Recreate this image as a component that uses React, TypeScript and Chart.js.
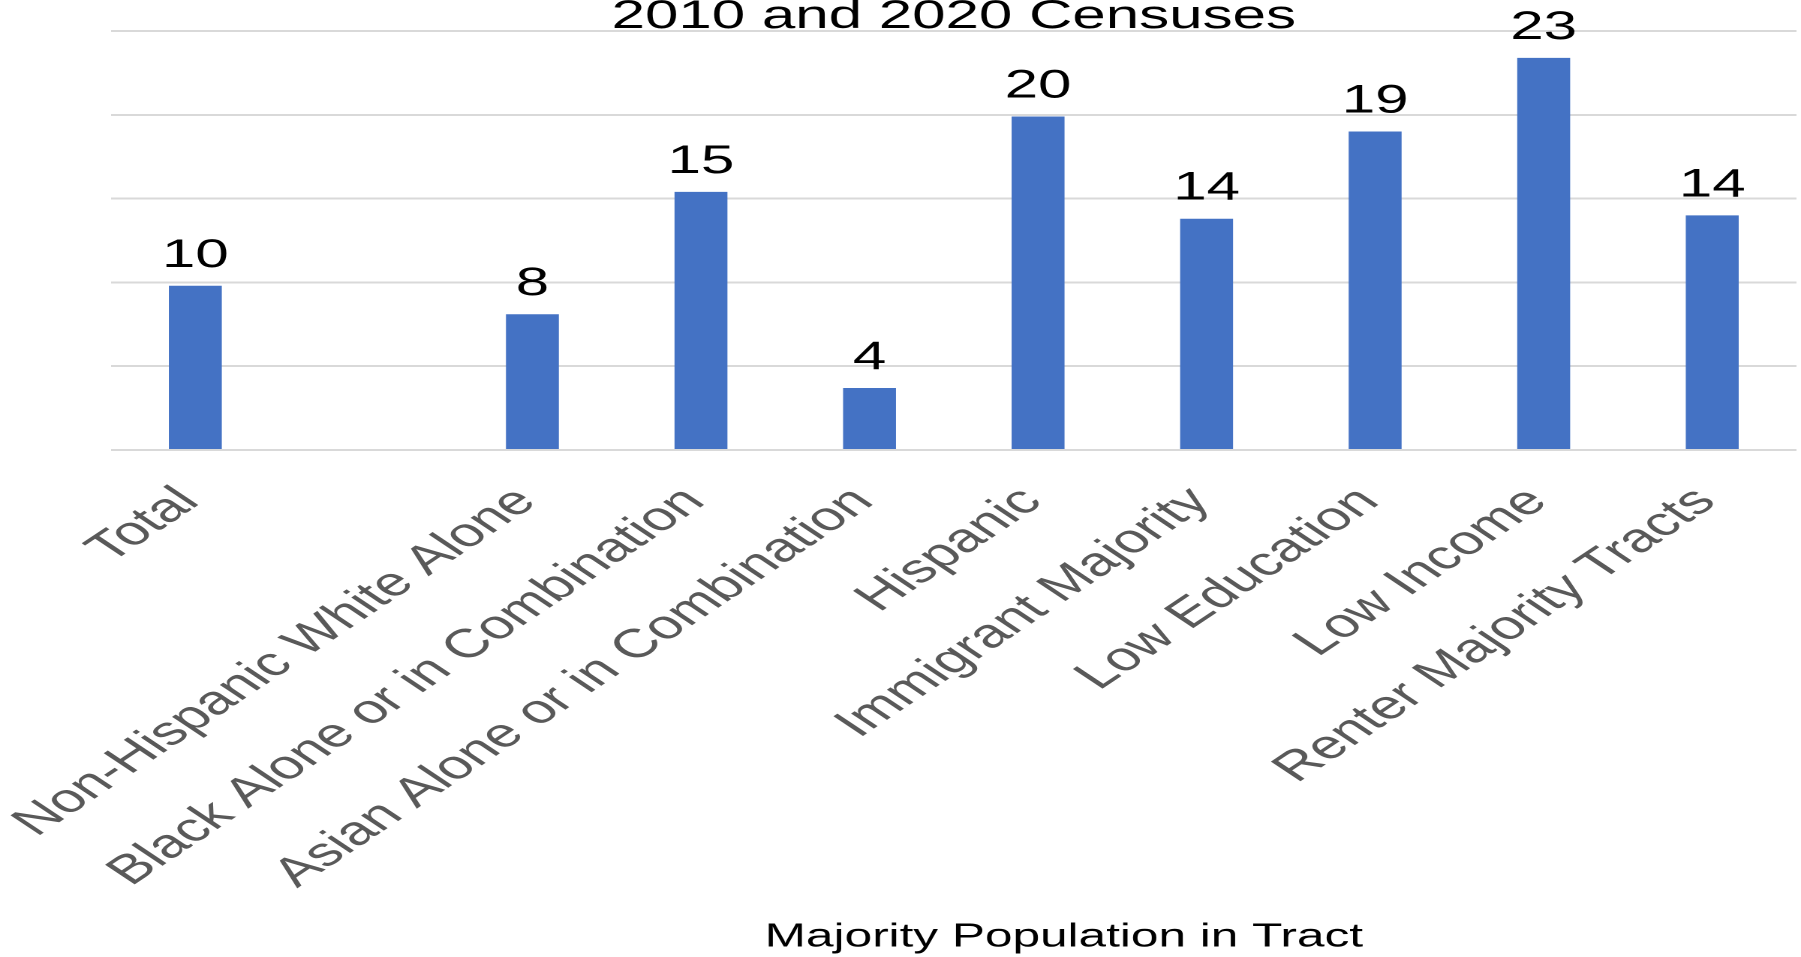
import React, { useEffect, useRef } from "react";
import { Chart, registerables } from "chart.js";

Chart.register(...registerables);

// chart data
const CATEGORIES = [
  "Total",
  "",
  "Non-Hispanic White Alone",
  "Black Alone or in Combination",
  "Asian Alone or in Combination",
  "Hispanic",
  "Immigrant Majority",
  "Low Education",
  "Low Income",
  "Renter Majority Tracts",
];
const VALUES: (number | null)[] = [9.8, null, 8.1, 15.4, 3.7, 19.9, 13.8, 19.0, 23.4, 14.0];
const Y_TICKS = [0, 5, 10, 15, 20, 25];
const TITLE = "2010 and 2020 Censuses";
const X_TITLE = "Majority Population in Tract";

const FONT = '"Liberation Sans", Arial, sans-serif';
// the original picture is a chart stretched sideways, so draw narrow and widen it
const CANVAS_W = 1200;
const CANVAS_H = 966;
const STRETCH = 1801 / CANVAS_W;
const SHIFT_UP = 9;

const valueLabels = {
  id: "valueLabels",
  afterDatasetsDraw(chart: Chart) {
    const { ctx } = chart;
    const meta = chart.getDatasetMeta(0);
    ctx.save();
    ctx.font = `40px ${FONT}`;
    ctx.fillStyle = "#000000";
    ctx.textAlign = "center";
    ctx.textBaseline = "alphabetic";
    meta.data.forEach((bar: any, i: number) => {
      const v = VALUES[i];
      if (v == null) return;
      ctx.fillText(String(Math.round(v)), bar.x, bar.y - 19);
    });
    ctx.restore();
  },
};

export default function App() {
  const canvasRef = useRef<HTMLCanvasElement | null>(null);

  useEffect(() => {
    if (!canvasRef.current) return;
    const chart = new Chart(canvasRef.current, {
      type: "bar",
      data: {
        labels: CATEGORIES,
        datasets: [
          {
            data: VALUES,
            backgroundColor: "#4472C4",
            barPercentage: 0.314,
            categoryPercentage: 1,
          },
        ],
      },
      options: {
        animation: false,
        responsive: false,
        maintainAspectRatio: false,
        devicePixelRatio: 2,
        layout: { padding: { left: 74, right: 3, top: 0, bottom: 48 } },
        plugins: {
          legend: { display: false },
          tooltip: { enabled: false },
          title: {
            display: true,
            text: TITLE,
            color: "#000000",
            font: { family: FONT, size: 40, weight: "normal", lineHeight: 1 },
            padding: { top: 6, bottom: -6 },
          },
        },
        scales: {
          x: {
            grid: { display: false },
            border: { display: false },
            ticks: {
              autoSkip: false,
              minRotation: 45,
              maxRotation: 45,
              padding: 20,
              labelOffset: -4,
              color: "#595959",
              font: { family: FONT, size: 40.5 },
            },
            title: {
              display: true,
              text: "                " + X_TITLE,
              color: "#000000",
              font: { family: FONT, size: 33 },
              padding: { top: 27, bottom: -48 },
            },
          },
          y: {
            min: 0,
            max: 25,
            afterBuildTicks: (axis: any) => {
              axis.ticks = Y_TICKS.map((v) => ({ value: v }));
            },
            ticks: { display: false },
            grid: { color: "#d9d9d9", lineWidth: 2, drawTicks: false },
            border: { display: false },
          },
        },
      },
      plugins: [valueLabels],
    });
    return () => chart.destroy();
  }, []);

  return (
    <div
      style={{
        position: "fixed",
        left: 0,
        top: 0,
        width: 1801,
        height: 957,
        overflow: "hidden",
        background: "#ffffff",
      }}
    >
      <div
        style={{
          position: "absolute",
          left: 0,
          top: -SHIFT_UP,
          width: CANVAS_W,
          height: CANVAS_H,
          transform: `scaleX(${STRETCH})`,
          transformOrigin: "0 0",
        }}
      >
        <canvas ref={canvasRef} width={CANVAS_W} height={CANVAS_H} />
      </div>
    </div>
  );
}
